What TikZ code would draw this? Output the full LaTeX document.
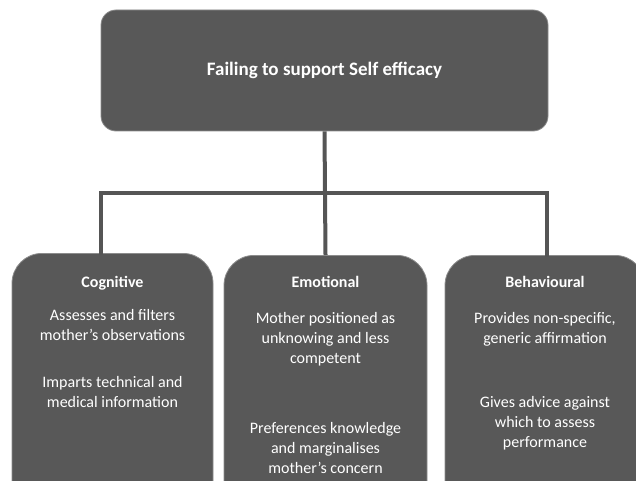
\documentclass[tikz,border=0pt]{standalone}
\usepackage{fontspec}
\setmainfont{Carlito}
\definecolor{boxgray}{RGB}{88,88,88}
\definecolor{rimgray}{RGB}{140,140,140}
\definecolor{linkgray}{RGB}{85,85,85}

\tikzset{
  box/.style={draw=rimgray,line width=0.8pt,fill=boxgray,text=white},
  topbox/.style={box,rounded corners=15pt,minimum width=447pt,minimum height=121pt,
    font=\fontsize{19}{23}\selectfont\bfseries},
  subbox/.style={box,rounded corners=30pt,anchor=north,minimum height=260pt},
  head/.style={anchor=base,text=white,inner sep=0pt,font=\fontsize{16}{20}\selectfont\bfseries},
  % multi-line text sits on the baseline of its last line
  body/.style={anchor=base,text=white,inner sep=0pt,align=center,font=\fontsize{16}{20}\selectfont},
  link/.style={draw=linkgray,line width=4pt}
}

\begin{document}
\begin{tikzpicture}[x=1pt,y=-1pt]
	\path[use as bounding box,clip] (0,0) rectangle (636,481);

	\node[topbox] (self) at (324.5,70.5) {Failing to support Self efficacy};

	\node[subbox,minimum width=201pt] (cog) at (112.5,253) {};
	\node[subbox,minimum width=203pt] (emo) at (325.5,255) {};
	\node[subbox,minimum width=200pt] (beh) at (545,255) {};

	% tree links
	\coordinate (barL) at (101,193);
	\coordinate (barR) at (547,193);
	\draw[link] (self.south) -- (emo.north);
	\draw[link,line cap=rect] (barL |- cog.north) -- (barL) -- (barR) -- (barR |- beh.north);

	% cognitive
	\node[head] (cogh) at (112.5,287) {Cognitive};
	\node[body] (cog1) at (112.5,340) {Assesses and filters\\mother’s observations};
	\node[body] (cog2) at (112.5,407) {Imparts technical and\\medical information};

	% emotional
	\node[head] (emoh) at (325.5,287) {Emotional};
	\node[body] (emo1) at (325.5,363) {Mother positioned as\\unknowing and less\\competent};
	\node[body] (emo2) at (325.5,473) {Preferences knowledge\\and marginalises\\mother’s  concern};

	% behavioural
	\node[head] (behh) at (545,287) {Behavioural};
	\node[body] (beh1) at (545,343) {Provides non-specific,\\generic affirmation};
	\node[body] (beh2) at (545,447) {Gives advice against\\which to assess\\performance};
\end{tikzpicture}
\end{document}
